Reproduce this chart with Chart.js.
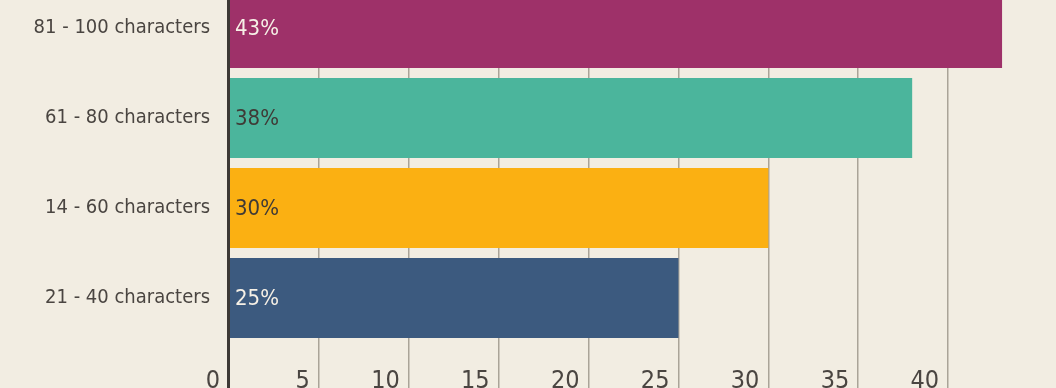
<!DOCTYPE html>
<html>
<head>
<meta charset="utf-8">
<script src="https://cdn.jsdelivr.net/npm/chart.js@4"></script>
<style>
  html, body { margin: 0; padding: 0; background: #f2ede2; overflow: hidden; }
  #wrap { position: absolute; left: 0; top: -40px; width: 1056px; height: 463px; }
</style>
</head>
<body>
<div id="wrap"><canvas id="chart"></canvas></div>
<script>
// Tweet length buckets and share of tweets (%)
const categories = ["81 - 100 characters", "61 - 80 characters", "14 - 60 characters", "21 - 40 characters"];
const shares = [43, 38, 30, 25];
const barColors = ["#9e3169", "#4bb59c", "#fbb012", "#3c5a7f"];
const valueColors = ["#f6f0e6", "#3f3a36", "#3f3a36", "#f6f0e6"];
const xTicks = [0, 5, 10, 15, 20, 25, 30, 35, 40];

const fontFamily = "'DejaVu Sans Condensed', 'Liberation Sans Narrow', 'Noto Sans', sans-serif";

// Draw the dark zero line on top of the bars, and the value labels inside them
const overlay = {
    id: "overlay",
    afterDatasetsDraw(chart) {
        const { ctx, scales } = chart;
        const x0 = scales.x.getPixelForValue(0);
        ctx.save();
        ctx.strokeStyle = "#3d3935";
        ctx.lineWidth = 3;
        ctx.beginPath();
        ctx.moveTo(x0 - 0.5, 0);
        ctx.lineTo(x0 - 0.5, chart.height);
        ctx.stroke();

        ctx.font = "22px " + fontFamily;
        ctx.textBaseline = "middle";
        ctx.textAlign = "left";
        chart.getDatasetMeta(0).data.forEach((bar, i) => {
            ctx.fillStyle = valueColors[i];
            ctx.fillText(shares[i] + "%", x0 + 6, bar.y + 1);
        });
        ctx.restore();
    },
};

new Chart(document.getElementById("chart"), {
    type: "bar",
    data: {
        labels: categories,
        datasets: [{
            data: shares,
            backgroundColor: barColors,
            borderWidth: 0,
            barPercentage: 0.89,
            categoryPercentage: 1,
        }],
    },
    options: {
        indexAxis: "y",
        responsive: true,
        maintainAspectRatio: false,
        animation: false,
        layout: { padding: 0 },
        plugins: {
            legend: { display: false },
            tooltip: { enabled: false },
        },
        scales: {
            x: {
                min: 0,
                max: 46,
                afterBuildTicks: (axis) => {
                    axis.ticks = xTicks.map((v) => ({ value: v }));
                },
                border: { display: false },
                grid: {
                    color: (c) => (c.tick && c.tick.value === 0 ? "#3d3935" : "#aaa498"),
                    lineWidth: 1.5,
                    tickLength: 80,
                    drawTicks: true,
                },
                ticks: {
                    padding: -57,
                    align: "end",
                    labelOffset: -9,
                    maxRotation: 0,
                    autoSkip: false,
                    color: "#4a4541",
                    font: { family: fontFamily, size: 25 },
                },
                afterFit: (axis) => { axis.height = 80; },
            },
            y: {
                border: { display: false },
                grid: { display: false },
                ticks: {
                    padding: 11,
                    color: "#4a4541",
                    font: { family: fontFamily, size: 20 },
                },
                afterFit: (axis) => { axis.width = 229; },
            },
        },
    },
    plugins: [overlay],
});
</script>
</body>
</html>
